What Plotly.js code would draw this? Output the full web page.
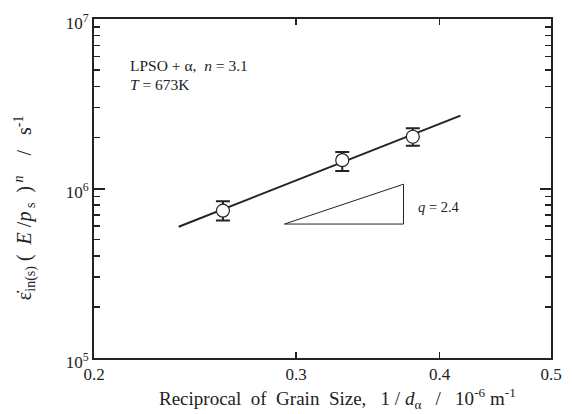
<!DOCTYPE html>
<html>
<head>
<meta charset="utf-8">
<script src="https://cdn.plot.ly/plotly-3.0.1.min.js"></script>
<style>html,body{margin:0;padding:0;background:#fff;}#chart{width:572px;height:414px;}</style>
</head>
<body>
<div id="chart"></div>
<script>
// Data
const grainX = [0.259, 0.329, 0.379];
const rateY = [7.40e5, 1.47e6, 2.02e6];
const errPlus = [1.0e5, 1.7e5, 2.5e5];
const errMinus = [0.92e5, 2.0e5, 2.3e5];
const fitX = [0.237, 0.417];
const fitY = [5.95e5, 2.69e6];
const triX = [0.293, 0.372, 0.372, 0.293];
const triY = [6.17e5, 6.17e5, 1.06e6, 6.17e5];
const xTickVals = [0.2, 0.3, 0.4, 0.5];
const xTickText = ['0.2', '0.3', '0.4', '0.5'];
const yTickVals = [1e5, 1e6, 1e7];
const yTickText = ['10<sup>5</sup>', '10<sup>6</sup>', '10<sup>7</sup>'];
const yMinorVals = [2e5,3e5,4e5,5e5,6e5,7e5,8e5,9e5,2e6,3e6,4e6,5e6,6e6,7e6,8e6,9e6];

const ink = '#222';
const serif = 'Liberation Serif';
const sp = n => '\u00a0'.repeat(n);

const traces = [
  {x: fitX, y: fitY, mode: 'lines', line: {color: ink, width: 2}, hoverinfo: 'skip'},
  {x: triX, y: triY, mode: 'lines', line: {color: ink, width: 1}, hoverinfo: 'skip'},
  {x: grainX, y: rateY, mode: 'markers',
   marker: {symbol: 'circle', size: 13, color: '#fff', line: {color: ink, width: 1.2}},
   error_y: {type: 'data', symmetric: false, array: errPlus, arrayminus: errMinus,
             color: ink, thickness: 2, width: 7}},
  // invisible trace to activate the minor-tick overlay axis
  {x: [0.3], y: [1e6], yaxis: 'y2', mode: 'markers', marker: {opacity: 0}, hoverinfo: 'skip'}
];

const layout = {
  width: 572, height: 414,
  margin: {l: 94, r: 21, t: 19, b: 56},
  paper_bgcolor: '#fff', plot_bgcolor: '#fff',
  showlegend: false,
  font: {family: serif, color: ink, size: 16},
  xaxis: {
    type: 'log', range: [Math.log10(0.2), Math.log10(0.5)],
    tickmode: 'array', tickvals: xTickVals, ticktext: xTickText,
    ticks: 'inside', ticklen: 6, tickwidth: 1.5, tickcolor: ink,
    showline: true, linecolor: ink, linewidth: 2, mirror: 'ticks',
    showgrid: false, zeroline: false,
    tickfont: {family: serif, size: 17, color: ink}
  },
  yaxis: {
    type: 'log', range: [5, 7],
    tickmode: 'array', tickvals: yTickVals, ticktext: yTickText,
    ticks: 'inside', ticklen: 11, tickwidth: 2, tickcolor: ink,
    showline: true, linecolor: ink, linewidth: 2, mirror: 'ticks',
    showgrid: false, zeroline: false, ticklabelshift: 4,
    tickfont: {family: serif, size: 17, color: ink}
  },
  yaxis2: {
    type: 'log', range: [5, 7], overlaying: 'y', side: 'left',
    tickmode: 'array', tickvals: yMinorVals, showticklabels: false,
    ticks: 'inside', ticklen: 6, tickwidth: 1.5, tickcolor: ink,
    showline: false, mirror: 'ticks', showgrid: false, zeroline: false
  },
  annotations: [
    {xref: 'paper', yref: 'paper', x: 0.0744, y: 0.864, xanchor: 'left', yanchor: 'middle',
     showarrow: false, font: {family: serif, size: 15.5, color: ink},
     text: 'LPSO' + sp(1) + '+' + sp(1) + 'α,' + sp(2) + '<i>n</i>' + sp(1) + '=' + sp(1) + '3.1'},
    {xref: 'paper', yref: 'paper', x: 0.0744, y: 0.808, xanchor: 'left', yanchor: 'middle',
     showarrow: false, font: {family: serif, size: 15.5, color: ink},
     text: '<i>T</i>' + sp(1) + '=' + sp(1) + '673K'},
    {xref: 'paper', yref: 'paper', x: 0.7046, y: 0.4454, xanchor: 'left', yanchor: 'middle',
     showarrow: false, font: {family: serif, size: 14.5, color: ink},
     text: '<i>q</i>' + sp(1) + '=' + sp(1) + '2.4'},
    {xref: 'paper', yref: 'paper', x: 0.532, y: -0.118, xanchor: 'center', yanchor: 'middle',
     showarrow: false, font: {family: serif, size: 19, color: ink},
     text: 'Reciprocal' + sp(2) + 'of' + sp(2) + 'Grain' + sp(2) + 'Size,' + sp(3) + '1' + sp(1) + '/' + sp(1) + '<i>d</i><sub>α</sub>' + sp(3) + '/' + sp(3) + '10<sup>-6</sup>' + sp(1) + 'm<sup>-1</sup>'},
    {xref: 'paper', yref: 'paper', x: -0.151, y: 0.445, xanchor: 'center', yanchor: 'middle',
     textangle: -90, showarrow: false, font: {family: serif, size: 20, color: ink},
     text: 'ε\u0307<sub>in(s)</sub>' + sp(1) + '(' + sp(2) + '<i>E</i>' + sp(1) + '/<i>p</i><sub>' + sp(1) + 's</sub>' + sp(2) + ')<sup>' + sp(1) + '<i>n</i></sup>' + sp(4) + '/' + sp(3) + 's<sup>-1</sup>'}
  ]
};

Plotly.newPlot('chart', traces, layout, {displayModeBar: false, staticPlot: true});
</script>
</body>
</html>
